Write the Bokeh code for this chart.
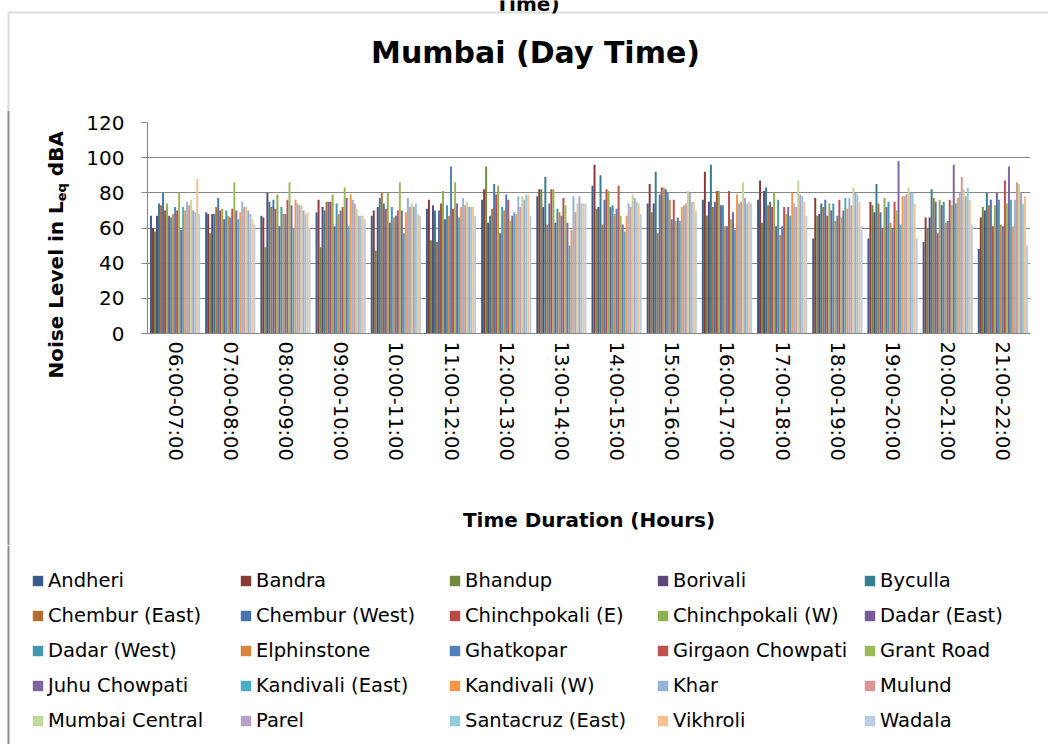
import math
from bokeh.plotting import figure
from bokeh.layouts import column, row
from bokeh.models import (FactorRange, ColumnDataSource, Legend, LegendItem, Label,
                          BoxAnnotation, FixedTicker, Range1d, Span)
from bokeh.transform import dodge
from bokeh.embed import file_html
from bokeh.resources import INLINE

time_slots = ["06:00-07:00", "07:00-08:00", "08:00-09:00", "09:00-10:00",
              "10:00-11:00", "11:00-12:00", "12:00-13:00", "13:00-14:00",
              "14:00-15:00", "15:00-16:00", "16:00-17:00", "17:00-18:00",
              "18:00-19:00", "19:00-20:00", "20:00-21:00", "21:00-22:00"]

stations = ["Andheri", "Bandra", "Bhandup", "Borivali", "Byculla",
            "Chembur (East)", "Chembur (West)", "Chinchpokali (E)", "Chinchpokali (W)", "Dadar (East)",
            "Dadar (West)", "Elphinstone", "Ghatkopar", "Girgaon Chowpati", "Grant Road",
            "Juhu Chowpati", "Kandivali (East)", "Kandivali (W)", "Khar", "Mulund",
            "Mumbai Central", "Parel", "Santacruz (East)", "Vikhroli", "Wadala"]

colors = ["#385D8A", "#8C3836", "#71893F", "#5C4776", "#357D91",
          "#B66D31", "#4674B0", "#B84A47", "#8FB04F", "#76599A",
          "#4198AF", "#DB843D", "#4F81BD", "#C0504D", "#9BBB59",
          "#8064A2", "#4BACC6", "#F79646", "#95B3D7", "#D99694",
          "#C3D69B", "#B3A2C7", "#93CDDD", "#FAC090", "#B9CDE5"]

# Leq dBA per time slot, one value per station (order as `stations`)
slot_06_07 = [67, 60, 58, 67, 74, 73, 80, 70, 74, 67, 66, 68, 72, 70, 80, 59, 72, 70, 75, 73, 76, 70, 69, 88, 68]
slot_07_08 = [69, 68, 57, 68, 68, 72, 77, 70, 71, 65, 70, 67, 66, 71, 86, 70, 65, 69, 75, 72, 72, 70, 68, 65, 62]
slot_08_09 = [67, 66, 49, 80, 75, 72, 76, 71, 79, 61, 72, 68, 68, 76, 86, 73, 60, 76, 74, 73, 73, 70, 68, 69, 60]
slot_09_10 = [69, 76, 49, 72, 70, 75, 75, 75, 79, 61, 74, 68, 70, 72, 83, 77, 61, 79, 76, 74, 71, 67, 67, 67, 65]
slot_10_11 = [67, 70, 47, 72, 77, 80, 74, 71, 80, 63, 72, 66, 67, 70, 86, 70, 57, 69, 77, 72, 74, 72, 74, 68, 67]
slot_11_12 = [71, 76, 53, 73, 70, 52, 70, 74, 81, 65, 73, 67, 95, 71, 86, 74, 66, 72, 77, 73, 75, 72, 72, 72, 67]
slot_12_13 = [76, 82, 95, 63, 67, 71, 85, 79, 84, 57, 72, 70, 79, 76, 64, 67, 69, 68, 78, 72, 78, 76, 79, 79, 67]
slot_13_14 = [78, 82, 82, 72, 89, 62, 74, 82, 82, 63, 71, 69, 67, 77, 73, 63, 50, 59, 78, 69, 74, 78, 74, 74, 74]
slot_14_15 = [84, 96, 71, 72, 90, 62, 76, 82, 81, 72, 73, 68, 71, 84, 67, 62, 58, 67, 74, 72, 79, 77, 75, 74, 68]
slot_15_16 = [74, 85, 69, 74, 92, 57, 79, 83, 83, 82, 80, 76, 65, 76, 64, 66, 64, 72, 73, 74, 81, 80, 75, 75, 70]
slot_16_17 = [76, 92, 67, 75, 96, 72, 75, 81, 81, 73, 73, 61, 61, 81, 65, 69, 59, 79, 74, 75, 86, 77, 74, 75, 74]
slot_17_18 = [76, 87, 63, 81, 83, 73, 75, 72, 80, 61, 76, 56, 61, 72, 68, 72, 67, 80, 74, 72, 87, 79, 78, 75, 67]
slot_18_19 = [54, 77, 67, 68, 74, 72, 76, 67, 74, 70, 74, 64, 67, 76, 66, 70, 77, 71, 77, 73, 83, 80, 79, 75, 61]
slot_19_20 = [54, 75, 73, 69, 85, 74, 69, 60, 77, 72, 75, 63, 60, 75, 70, 98, 62, 78, 78, 79, 83, 80, 80, 74, 54]
slot_20_21 = [52, 66, 60, 66, 82, 77, 75, 57, 76, 73, 75, 63, 64, 76, 73, 96, 74, 77, 80, 89, 82, 78, 83, 76, 62]
slot_21_22 = [48, 66, 72, 70, 80, 73, 76, 61, 73, 80, 76, 62, 61, 87, 74, 95, 76, 61, 76, 86, 85, 80, 74, 78, 50]

y_ticks = [0, 20, 40, 60, 80, 100, 120]

rows = [slot_06_07, slot_07_08, slot_08_09, slot_09_10, slot_10_11, slot_11_12,
        slot_12_13, slot_13_14, slot_14_15, slot_15_16, slot_16_17, slot_17_18,
        slot_18_19, slot_19_20, slot_20_21, slot_21_22]

data = {"x": time_slots}
for i in range(len(stations)):
    data["s%d" % i] = [r_[i] for r_ in rows]
src = ColumnDataSource(data)

FONT = "DejaVu Sans"
GRID = "#868686"
BORDER = "#8c8c8c"
W = 1048
TOP_H = 110          # title strip
MID_H = 435          # plot strip
BOT_H = 744 - TOP_H - MID_H   # legend strip
LAB_W = 75           # y-label strip

n = len(stations)
group = 0.91
bw = group / n
offsets = [-group / 2 + bw * (i + 0.5) for i in range(n)]


def blank(width, height, x_range=None, y_range=None):
    f = figure(width=width, height=height,
               x_range=x_range if x_range is not None else Range1d(0, width),
               y_range=y_range if y_range is not None else Range1d(0, height),
               x_axis_type=None, y_axis_type=None, output_backend="svg", toolbar_location=None,
               min_border=0, min_border_left=0, min_border_right=0,
               min_border_top=0, min_border_bottom=0,
               background_fill_color="white", border_fill_color="white")
    f.outline_line_color = None
    f.grid.visible = False
    return f


# ---------- title strip ----------
t = blank(W, TOP_H)
t.add_layout(BoxAnnotation(left=8, right=W + 20, top=TOP_H - 12, bottom=-20,
                           fill_alpha=0, line_color=BORDER, line_width=2))
t.add_layout(Label(x=527, y=TOP_H - 3, text="Time)", text_align="center",
                   text_baseline="alphabetic", text_font=FONT, text_font_style="bold",
                   text_font_size="20px", text_color="black"))
t.add_layout(Label(x=535, y=TOP_H - 52, text="Mumbai (Day Time)", text_align="center",
                   text_baseline="middle", text_font=FONT, text_font_style="bold",
                   text_font_size="30px", text_color="black"))

# ---------- y label strip ----------
yl = blank(LAB_W, MID_H)
yl.add_layout(Span(location=8, dimension="height", line_color=BORDER, line_width=2))
fs = 20
y0 = 545 - 378
w1 = 8.864 * fs
yl.add_layout(Label(x=55, y=y0, angle=math.pi / 2, text="Noise Level in L",
                    text_align="left", text_baseline="middle", text_font=FONT,
                    text_font_style="bold", text_font_size="%dpx" % fs, text_color="black"))
yl.add_layout(Label(x=61, y=y0 + w1, angle=math.pi / 2, text="eq",
                    text_align="left", text_baseline="middle", text_font=FONT,
                    text_font_style="bold", text_font_size="13px", text_color="black"))
yl.add_layout(Label(x=55, y=y0 + w1 + 1.394 * 13 + 0.348 * fs, angle=math.pi / 2, text="dBA",
                    text_align="left", text_baseline="middle", text_font=FONT,
                    text_font_style="bold", text_font_size="%dpx" % fs, text_color="black"))

# ---------- main plot ----------
p = figure(x_range=FactorRange(*time_slots), y_range=(0, 120),
           frame_width=883, frame_height=211,
           min_border_left=147 - LAB_W, min_border_right=18, min_border_top=12,
           min_border_bottom=MID_H - 12 - 211,
           output_backend="svg", toolbar_location=None,
           background_fill_color="white", border_fill_color="white")
p.outline_line_color = None

for i, st in enumerate(stations):
    p.vbar(x=dodge("x", offsets[i], range=p.x_range), top="s%d" % i, width=bw * 0.98,
           source=src, fill_color=colors[i], line_color=None)

p.yaxis.ticker = FixedTicker(ticks=y_ticks)
p.yaxis.axis_line_color = GRID
p.yaxis.major_tick_line_color = GRID
p.yaxis.major_tick_out = 6
p.yaxis.major_tick_in = 0
p.yaxis.minor_tick_line_color = None
p.yaxis.major_label_standoff = 17
p.yaxis.major_label_text_font = FONT
p.yaxis.major_label_text_font_size = "20px"
p.yaxis.major_label_text_color = "black"

p.xaxis.axis_line_color = GRID
p.xaxis.major_tick_line_color = None
p.xaxis.major_tick_out = 0
p.xaxis.major_label_orientation = "vertical"
p.xaxis.major_label_standoff = 8
p.xaxis.major_label_text_font = FONT
p.xaxis.major_label_text_font_size = "19.5px"
p.xaxis.major_label_text_color = "black"
p.xaxis.axis_label = "Time Duration (Hours)"
p.xaxis.axis_label_text_font = FONT
p.xaxis.axis_label_text_font_style = "bold"
p.xaxis.axis_label_text_font_size = "20px"
p.xaxis.axis_label_text_color = "black"
p.xaxis.axis_label_standoff = 44

p.xgrid.grid_line_color = None
p.ygrid.grid_line_color = GRID
p.ygrid.grid_line_width = 1

# ---------- legend strip (swatch renderers share the data, kept out of view) ----------
lg_fig = blank(W, BOT_H, x_range=FactorRange(*time_slots), y_range=Range1d(1000, 1100))
lg_fig.add_layout(Span(location=8, location_units="screen", dimension="height",
                       line_color=BORDER, line_width=2))
swatches = []
for i, st in enumerate(stations):
    swatches.append(lg_fig.vbar(x=dodge("x", offsets[i], range=lg_fig.x_range), top="s%d" % i,
                                width=bw, source=src, fill_color=colors[i], line_color=None))

col_x = [31, 239, 448, 656, 863]
for c in range(5):
    items = [LegendItem(label=stations[k], renderers=[swatches[k]]) for k in range(c, n, 5)]
    lg = Legend(items=items, location=(col_x[c], 744 - 732), orientation="vertical",
                label_text_font=FONT, label_text_font_size="19.5px", label_text_color="black",
                glyph_width=13, glyph_height=13, label_standoff=4, label_height=24,
                spacing=11, padding=0, margin=0, border_line_color=None,
                background_fill_alpha=0)
    lg_fig.add_layout(lg)

layout = column(t, row(yl, column(p)), lg_fig)
open("out.html", "w").write(file_html(layout, INLINE))
